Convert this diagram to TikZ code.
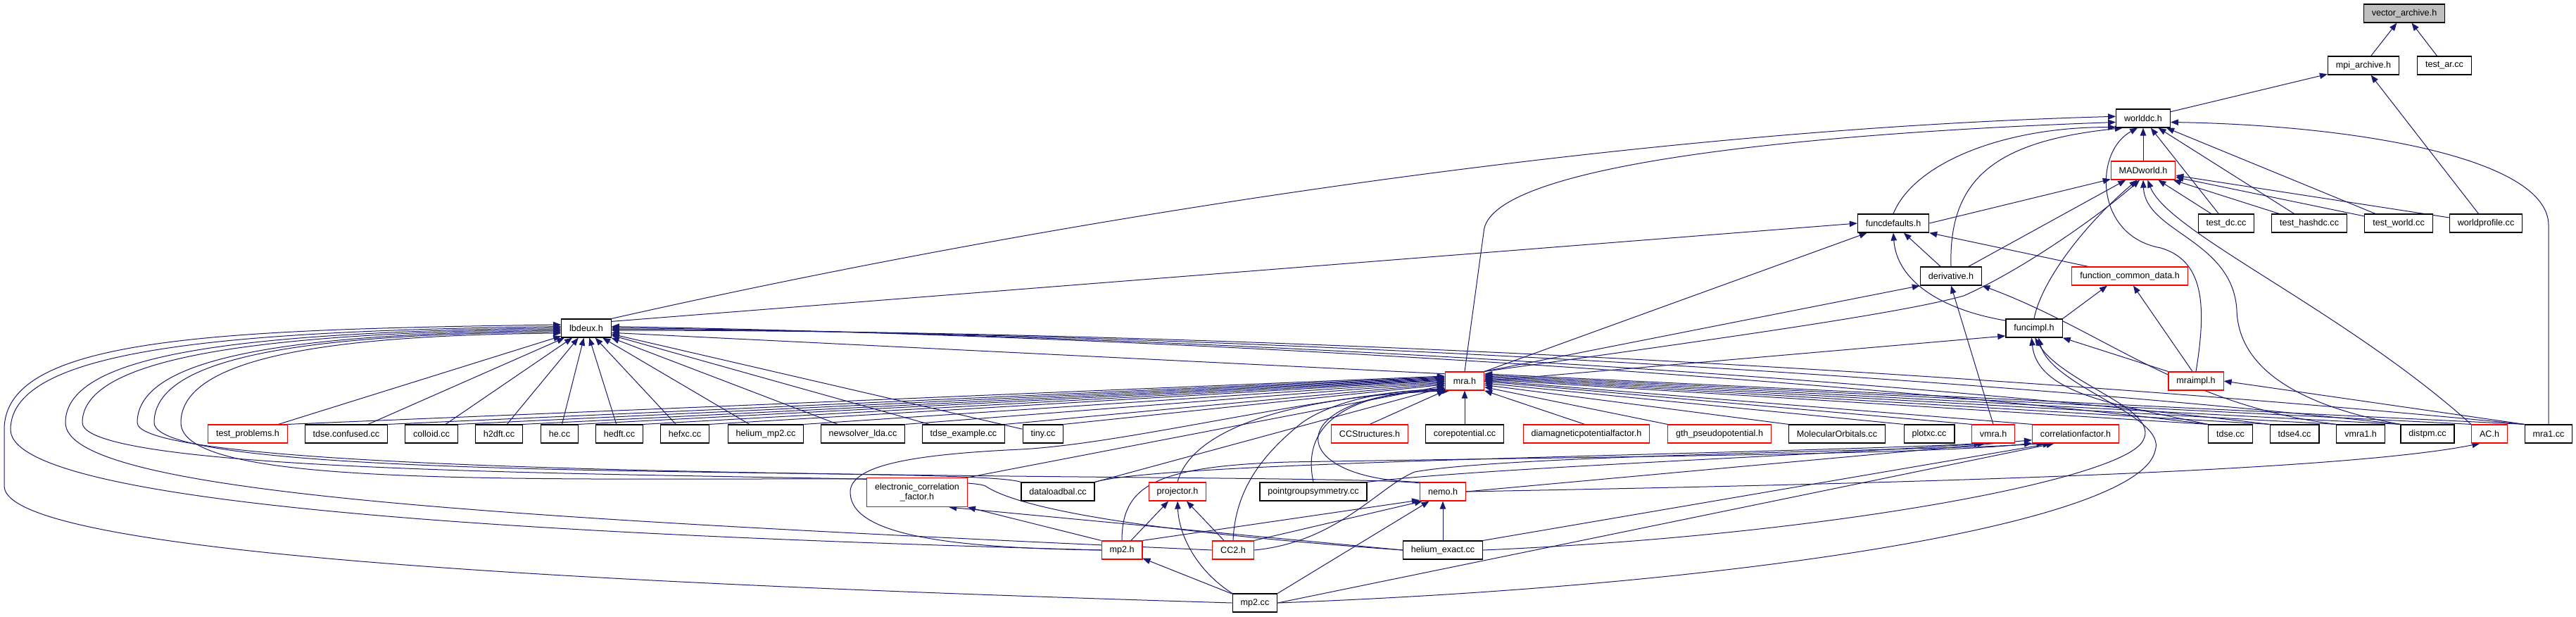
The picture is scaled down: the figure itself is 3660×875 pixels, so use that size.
\documentclass[tikz,border=0pt]{standalone}
\usepackage{fontspec}
\setmainfont{Liberation Sans}
\usetikzlibrary{arrows.meta}
\definecolor{edgec}{HTML}{191970}
\definecolor{redc}{HTML}{FF0000}
\definecolor{grayc}{HTML}{BFBFBF}
\pgfdeclarelayer{bglayer}
\pgfdeclarelayer{edgelayer}
\pgfsetlayers{bglayer,edgelayer,main}
\tikzset{
  nb/.style={draw=black, fill=white, line width=0.6pt, minimum height=13pt, inner xsep=5.7pt, inner ysep=0pt, font=\fontsize{6.3}{7.3}\selectfont},
  nr/.style={nb, draw=redc},
  ng/.style={nb, fill=grayc},
  e/.style={draw=edgec, line width=0.5pt, -{Triangle[length=5.5pt,width=4.2pt]}},
}
\begin{document}
\begin{tikzpicture}[x=0.5pt,y=-0.5pt]
\begin{pgfonlayer}{bglayer}
\fill[white] (0,0) rectangle (3660,875);
\end{pgfonlayer}
\useasboundingbox (0,0) rectangle (3660,875);
% nodes
\node[ng] (va) at (3416,19) {vector\_archive.h};
\node[nb] (mpi) at (3358,93) {mpi\_archive.h};
\node[nb] (tar) at (3473,93) {test\_ar.cc};
\node[nb] (wdc) at (3045,168) {worlddc.h};
\node[nr] (madw) at (3045,242) {MADworld.h};
\node[nb] (tdc) at (3163,317) {test\_dc.cc};
\node[nb] (thdc) at (3281,317) {test\_hashdc.cc};
\node[nb] (tw) at (3408,317) {test\_world.cc};
\node[nb] (wp) at (3532,317) {worldprofile.cc};
\node[nb] (fdef) at (2690,317) {funcdefaults.h};
\node[nb] (deriv) at (2772,392) {derivative.h};
\node[nr] (fcd) at (3026,392) {function\_common\_data.h};
\node[nb] (lbd) at (833,466) {lbdeux.h};
\node[nb] (fimpl) at (2890,466) {funcimpl.h};
\node[nr] (mra) at (2081,541) {mra.h};
\node[nr] (mraimpl) at (3120,541) {mraimpl.h};
\node[nr] (tprob) at (352,616) {test\_problems.h};
\node[nb] (tconf) at (492,616) {tdse.confused.cc};
\node[nb] (coll) at (613,616) {colloid.cc};
\node[nb] (h2dft) at (709,616) {h2dft.cc};
\node[nb] (he) at (795,616) {he.cc};
\node[nb] (hedft) at (880,616) {hedft.cc};
\node[nb] (hefxc) at (973,616) {hefxc.cc};
\node[nb] (hemp2) at (1088,616) {helium\_mp2.cc};
\node[nb] (nslda) at (1226,616) {newsolver\_lda.cc};
\node[nb] (tex) at (1369,616) {tdse\_example.cc};
\node[nb] (tiny) at (1482,616) {tiny.cc};
\node[nr] (ccs) at (1946,616) {CCStructures.h};
\node[nb] (corep) at (2081,616) {corepotential.cc};
\node[nr] (diam) at (2254,616) {diamagneticpotentialfactor.h};
\node[nr] (gth) at (2443,616) {gth\_pseudopotential.h};
\node[nb] (molo) at (2610,616) {MolecularOrbitals.cc};
\node[nb] (plotxc) at (2741,616) {plotxc.cc};
\node[nr] (vmra) at (2832,616) {vmra.h};
\node[nr] (corrf) at (2949,616) {correlationfactor.h};
\node[nb] (tdse) at (3169,616) {tdse.cc};
\node[nb] (tdse4) at (3260,616) {tdse4.cc};
\node[nb] (vmra1) at (3354,616) {vmra1.h};
\node[nb] (distpm) at (3449,616) {distpm.cc};
\node[nr] (ac) at (3537,616) {AC.h};
\node[nb] (mra1) at (3621,616) {mra1.cc};
\node[nr, minimum height=20.5pt, align=center] (ecf) at (1303,699) {electronic\_correlation\\\_factor.h};
\node[nb] (dlb) at (1503,698) {dataloadbal.cc};
\node[nr] (proj) at (1673,698) {projector.h};
\node[nb] (pgs) at (1866,698) {pointgroupsymmetry.cc};
\node[nr] (nemo) at (2050,698) {nemo.h};
\node[nr] (mp2h) at (1594,781) {mp2.h};
\node[nr] (cc2) at (1752,781) {CC2.h};
\node[nb] (hex) at (2050,781) {helium\_exact.cc};
\node[nb] (mp2cc) at (1783,856) {mp2.cc};
\begin{pgfonlayer}{edgelayer}
% top
\draw[e] (mpi) -- (va);
\draw[e] (tar) -- (va);
\draw[e] (wdc) -- (mpi);
\draw[e] (wp) -- (mpi);
\draw[e] (madw) -- (wdc);
\draw[e] (tdc) -- (wdc);
\draw[e] (thdc) -- (wdc);
\draw[e] (tw) -- (wdc);
\draw[e] (mra1.north) -- (3621,320) .. controls (3621,225) and (3350,178) .. (wdc.352);
\draw[e] (tdc) -- (madw);
\draw[e] (thdc) -- (madw);
\draw[e] (tw) -- (madw);
\draw[e] (wp) -- (madw);
\draw[e] (fdef.north) .. controls (2720,230) and (2850,180) .. (wdc.198);
\draw[e] (lbd.north east) .. controls (1500,310) and (2300,185) .. (wdc.176);
\draw[e] (mra.north) -- (2108,330) .. controls (2112,230) and (2600,188) .. (wdc.188);
\draw[e] (deriv.north) .. controls (2768,250) and (2840,200) .. (wdc.205);
\draw[e] (mraimpl.north) .. controls (3136,430) and (3130,370) .. (3070,352) .. controls (2975,335) and (2975,215) .. (wdc.240);
\draw[e] (fdef.east) -- (madw.195);
\draw[e] (deriv) -- (madw);
\draw[e] (mra.north east) .. controls (2450,480) and (2700,445) .. (2790,420) .. controls (2880,380) and (2990,300) .. (madw.250);
\draw[e] (fimpl.north) .. controls (2900,400) and (2960,320) .. (madw.238);
\draw[e] (distpm.north west) .. controls (3260,575) and (3180,520) .. (3178,440) .. controls (3172,340) and (3048,330) .. (madw.south);
\draw[e] (ac.north west) .. controls (3330,440) and (3080,330) .. (madw.295);
% funcdefaults
\draw[e] (lbd.15) -- (fdef.west);
\draw[e] (deriv) -- (fdef);
\draw[e] (fimpl.165) .. controls (2760,440) and (2695,400) .. (fdef.south);
\draw[e] (fcd.167) -- (fdef.south east);
\draw[e] (mra.north east) -- (fdef.200);
% derivative
\draw[e] (mra.north east) -- (deriv.south west);
\draw[e] (vmra.north) -- (deriv.south);
\draw[e] (vmra1.north west) .. controls (3100,575) and (2990,470) .. (deriv.south east);
% funcimpl
\draw[e] (mra.east) -- (fimpl.195);
\draw[e] (mraimpl.north west) -- (fimpl.south east);
\draw[e] (tdse.north west) .. controls (3010,575) and (2895,560) .. (fimpl.255);
\draw[e] (hex.east) .. controls (2600,760) and (3020,680) .. (3045,625) .. controls (3070,580) and (2930,545) .. (fimpl.275);
\draw[e] (mp2cc.east) .. controls (2500,830) and (3040,740) .. (3062,640) .. controls (3080,590) and (2915,550) .. (fimpl.295);
% function_common_data
\draw[e] (fimpl.north east) -- (fcd.203);
\draw[e] (mraimpl.110) -- (fcd.290);
% mraimpl
\draw[e] (mra1.north west) -- (mraimpl.east);
% lbdeux fan (left row)
\foreach \n in {tprob,tconf,coll,h2dft,he,hedft,hefxc,hemp2,nslda,tex,tiny}
  \draw[e] (\n) -- (lbd);
% mra fan (left row)
\foreach \n/\a in {tprob/166,tconf/168,coll/170,h2dft/172,he/174,hedft/176,hefxc/178,hemp2/181,nslda/184,tex/187,tiny/190}
  \draw[e] (\n.north east) -- (mra.\a);
% lbdeux loops (left side)
\draw[e] (mp2cc.west) .. controls (900,830) and (6,790) .. (6,690) -- (6,610) .. controls (6,480) and (300,468) .. (lbd.172);
\draw[e] (mp2h.west) .. controls (800,760) and (15,720) .. (15,610) .. controls (15,495) and (320,470) .. (lbd.176);
\draw[e] (cc2.west) .. controls (700,735) and (93,700) .. (93,600) .. controls (93,500) and (350,472) .. (lbd.179);
\draw[e] (hex.west) .. controls (1700,760) and (1460,730) .. (1400,690) .. controls (1360,668) and (117,690) .. (117,600) .. controls (117,505) and (380,473) .. (lbd.182);
\draw[e] (nemo.160) .. controls (1900,670) and (195,690) .. (195,600) .. controls (195,505) and (420,474) .. (lbd.185);
\draw[e] (dlb.north west) .. controls (1380,660) and (219,690) .. (219,600) .. controls (219,505) and (440,475) .. (lbd.188);
\draw[e] (ecf.165) .. controls (700,680) and (257,690) .. (257,600) .. controls (257,505) and (480,476) .. (lbd.191);
% lbdeux right
\draw[e] (tdse.north west) .. controls (2700,548) and (1800,480) .. (lbd.4);
\draw[e] (tdse4.north west) .. controls (2750,545) and (1800,476) .. (lbd.1);
\draw[e] (distpm.north west) .. controls (2850,540) and (1800,472) .. (lbd.358);
\draw[e] (mra1.north west) .. controls (2900,535) and (1800,468) .. (lbd.355);
\draw[e] (mra.160) -- (lbd.350);
% mra right row
\draw[e] (ccs.north) -- (mra.south west);
\draw[e] (corep) -- (mra);
\draw[e] (diam.100) -- (mra.south east);
\draw[e] (gth.north west) -- (mra.343);
\draw[e] (molo.north west) -- (mra.349);
\draw[e] (plotxc.north west) -- (mra.354);
\draw[e] (vmra.north west) -- (mra.359);
\draw[e] (corrf.north west) -- (mra.2);
\draw[e] (tdse.north west) -- (mra.5);
\draw[e] (tdse4.north west) -- (mra.8);
\draw[e] (vmra1.north west) -- (mra.11);
\draw[e] (distpm.north west) -- (mra.14);
\draw[e] (ac.north west) -- (mra.17);
\draw[e] (mra1.north west) -- (mra.20);
% bottom cluster
\draw[e] (ecf.north east) -- (mra.193);
\draw[e] (dlb.north east) -- (mra.197);
\draw[e] (mp2h.west) .. controls (1350,778) and (1210,760) .. (1208,700) .. controls (1206,660) and (1300,645) .. (1450,638) .. controls (1600,630) and (1850,565) .. (mra.200);
\draw[e] (pgs.north) .. controls (1850,610) and (1900,560) .. (mra.203);
\draw[e] (cc2.north) .. controls (1755,690) and (1800,640) .. (1850,600) .. controls (1900,565) and (1990,552) .. (mra.206);
\draw[e] (nemo.north west) .. controls (1820,680) and (1820,560) .. (mra.209);
\draw[e] (proj.north) .. controls (1690,620) and (1800,565) .. (mra.213);
\draw[e] (mp2h.north west) -- (ecf.south east);
\draw[e] (mp2h) -- (proj);
\draw[e] (mp2h.north east) -- (nemo.200);
\draw[e] (mp2h.north) .. controls (1594,690) and (1640,662) .. (1830,656) .. controls (2300,648) and (2750,645) .. (corrf.192);
\draw[e] (cc2) -- (proj);
\draw[e] (cc2.north east) -- (nemo.205);
\draw[e] (cc2.east) .. controls (1900,770) and (1960,690) .. (2010,670) .. controls (2150,645) and (2750,640) .. (corrf.197);
\draw[e] (hex) -- (nemo);
\draw[e] (hex.west) -- (ecf.335);
\draw[e] (hex.north east) -- (corrf.201);
\draw[e] (mp2cc) -- (mp2h);
\draw[e] (mp2cc.north west) .. controls (1700,810) and (1675,760) .. (proj.south);
\draw[e] (mp2cc.north east) -- (nemo.215);
\draw[e] (mp2cc.east) -- (corrf.204);
\draw[e] (nemo.east) -- (corrf.188);
\draw[e] (nemo.east) .. controls (2500,690) and (3300,675) .. (ac.225);
\draw[e] (dlb.north east) .. controls (1650,655) and (2500,645) .. (vmra.220);
\draw[e] (pgs.north east) .. controls (2100,665) and (2550,648) .. (vmra.230);
\end{pgfonlayer}
\end{tikzpicture}
\end{document}
